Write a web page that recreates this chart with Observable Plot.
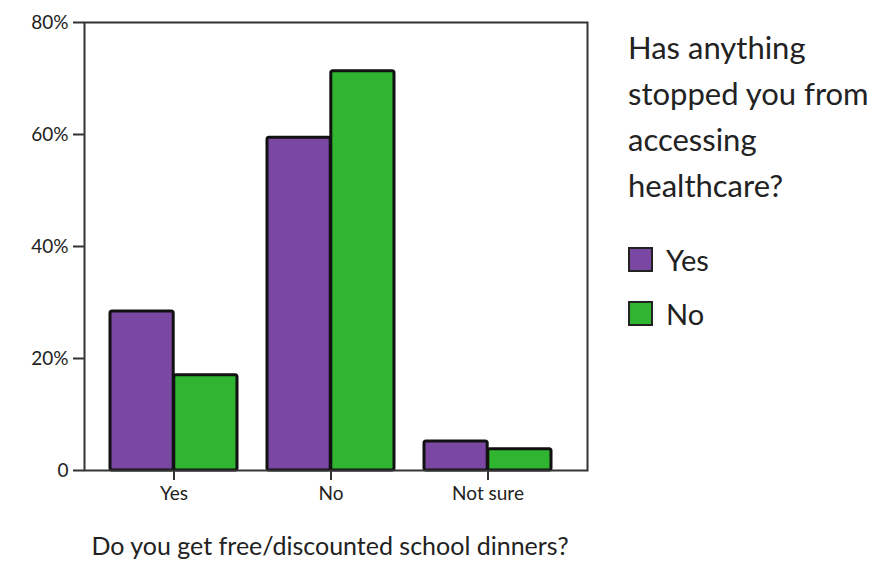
<!DOCTYPE html>
<html>
<head>
<meta charset="utf-8">
<script src="https://cdn.jsdelivr.net/npm/d3@7"></script>
<script src="https://cdn.jsdelivr.net/npm/@observablehq/plot@0.6"></script>
<style>
  html, body { margin: 0; padding: 0; background: #fff; }
  #wrap { position: relative; width: 887px; height: 565px; font-family: Lato, "Open Sans", sans-serif; color: #222; }
  #chart { position: absolute; left: 0; top: 0; }
  #legend { position: absolute; left: 628px; top: 24px; }
  #legend .title { font-size: 31px; line-height: 46px; color: #222; }
  #legend .item { display: flex; align-items: center; font-size: 29px; height: 54px; }
  #legend .title + .item { margin-top: 24px; }
  #legend .sw { width: 21px; height: 21px; border: 2px solid #222; margin-right: 13px; }
</style>
</head>
<body>
<div id="wrap">
  <div id="chart"></div>
  <div id="legend"></div>
</div>
<script>
const groups = ["Yes", "No", "Not sure"];
const series = ["Yes", "No"];
const yesValues = [28.4, 59.4, 5.2];
const noValues = [17.0, 71.3, 3.8];
const yTicks = [0, 20, 40, 60, 80];
const colors = ["#7a48a3", "#2fb52f"];
const legendTitle = ["Has anything", "stopped you from", "accessing", "healthcare?"];
const xLabel = "Do you get free/discounted school dinners?";

const yesData = groups.map((g, i) => ({group: g, series: "Yes", value: yesValues[i]}));
const noData = groups.map((g, i) => ({group: g, series: "No", value: noValues[i]}));

const half = 63.8;

const chart = Plot.plot({
  width: 600,
  height: 565,
  marginLeft: 84,
  marginRight: 13,
  marginTop: 22,
  marginBottom: 95,
  style: {fontFamily: "Lato, 'Open Sans', sans-serif", color: "#222", background: "#fff"},
  x: {domain: groups, paddingInner: 0.19, paddingOuter: 0.19, align: 0.42, label: null},
  y: {domain: [0, 80], label: null},
  color: {domain: series, range: colors},
  marks: [
    Plot.barY(yesData, {x: "group", y: "value", fill: "series", stroke: "#111", strokeWidth: 3, insetRight: half, rx: 2}),
    Plot.barY(noData, {x: "group", y: "value", fill: "series", stroke: "#111", strokeWidth: 3, insetLeft: half, rx: 2}),
    Plot.frame({stroke: "#333", strokeWidth: 2}),
    Plot.axisY({ticks: yTicks, tickSize: 11, tickPadding: 5, tickFormat: d => d === 0 ? "0" : d + "%", fontSize: 19, strokeWidth: 2, stroke: "#333", label: null}),
    Plot.axisX({tickSize: 10, tickPadding: 6, fontSize: 19, strokeWidth: 2, stroke: "#333", label: null}),
    Plot.text([xLabel], {frameAnchor: "bottom", dx: -6, dy: 84, fontSize: 25, fill: "#222", text: d => d})
  ]
});
document.getElementById("chart").appendChild(chart);

const legend = document.getElementById("legend");
const t = document.createElement("div");
t.className = "title";
t.innerHTML = legendTitle.join("<br>");
legend.appendChild(t);
series.forEach((s, i) => {
  const it = document.createElement("div");
  it.className = "item";
  const sw = document.createElement("span");
  sw.className = "sw";
  sw.style.background = colors[i];
  it.appendChild(sw);
  it.appendChild(document.createTextNode(s));
  legend.appendChild(it);
});
</script>
</body>
</html>
